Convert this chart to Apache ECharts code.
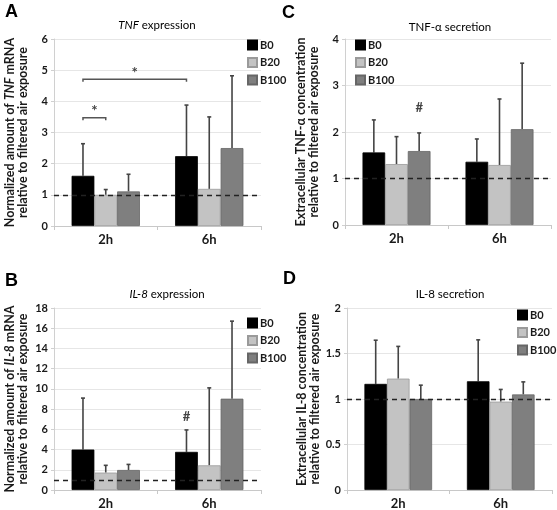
<!DOCTYPE html>
<html>
<head>
<meta charset="utf-8">
<script src="https://cdn.jsdelivr.net/npm/echarts@6/dist/echarts.min.js"></script>
<style>html,body{margin:0;padding:0;background:#fff}#c{width:557px;height:510px}</style>
</head>
<body>
<div id="c"></div>
<script>
// ---- data ----
const categories = ['2h', '6h'];
const seriesNames = ['B0', 'B20', 'B100'];

// A: TNF expression (mean, SD)
const tnfExprB0 = [1.61, 2.24];
const tnfExprB20 = [1.00, 1.19];
const tnfExprB100 = [1.11, 2.50];
const tnfExprSdB0 = [1.03, 1.64];
const tnfExprSdB20 = [0.17, 2.31];
const tnfExprSdB100 = [0.55, 2.32];

// B: IL-8 expression
const il8ExprB0 = [4.00, 3.77];
const il8ExprB20 = [1.72, 2.44];
const il8ExprB100 = [1.98, 9.03];
const il8ExprSdB0 = [5.09, 2.17];
const il8ExprSdB20 = [0.72, 7.66];
const il8ExprSdB100 = [0.55, 7.67];

// C: TNF-α secretion
const tnfSecB0 = [1.56, 1.36];
const tnfSecB20 = [1.31, 1.29];
const tnfSecB100 = [1.59, 2.06];
const tnfSecSdB0 = [0.70, 0.49];
const tnfSecSdB20 = [0.59, 1.42];
const tnfSecSdB100 = [0.39, 1.42];

// D: IL-8 secretion
const il8SecB0 = [1.166, 1.195];
const il8SecB20 = [1.224, 0.971];
const il8SecB100 = [1.00, 1.05];
const il8SecSdB0 = [0.48, 0.455];
const il8SecSdB20 = [0.354, 0.134];
const il8SecSdB100 = [0.152, 0.138];

// reference line (filtered air = 1)
const referenceLevel = 1;

// significance annotations: [category, barIndex, category2, barIndex2, value, label]
const bracketsA = [[0, 0, 0, 1, 3.47, '*'], [0, 0, 1, 0, 4.71, '*']];
// single markers: [category, barIndex, value, label]
const marksB = [[1, 0, 7.2, '#']];
const marksC = [[0, 2, 2.53, '#']];

// axis ranges
const yMaxA = 6, yStepA = 1;
const yMaxB = 18, yStepB = 2;
const yMaxC = 4, yStepC = 1;
const yMaxD = 2, yStepD = 0.5;

// ---- styling / layout ----
const FONT = 'Lato';
const colors = ['#000000', '#c3c3c3', '#7f7f7f'];
const borders = ['#000000', '#9a9a9a', '#666666'];
const CAT_GAP = 0.34;

const grids = [
  {left: 54, top: 39, width: 207, height: 187},   // A
  {left: 54, top: 308, width: 207, height: 185},  // B
  {left: 345, top: 39, width: 206, height: 186},  // C
  {left: 347, top: 308, width: 205, height: 185}  // D
];

const panels = [
  {means: [tnfExprB0, tnfExprB20, tnfExprB100], sds: [tnfExprSdB0, tnfExprSdB20, tnfExprSdB100], max: yMaxA, step: yStepA,
   name: '{n|Normalized amount of }{i|TNF}{n| mRNA}\n{n|relative to filtered air exposure}', brackets: bracketsA, marks: []},
  {means: [il8ExprB0, il8ExprB20, il8ExprB100], sds: [il8ExprSdB0, il8ExprSdB20, il8ExprSdB100], max: yMaxB, step: yStepB,
   name: '{n|Normalized amount of }{i|IL-8}{n| mRNA}\n{n|relative to filtered air exposure}', brackets: [], marks: marksB},
  {means: [tnfSecB0, tnfSecB20, tnfSecB100], sds: [tnfSecSdB0, tnfSecSdB20, tnfSecSdB100], max: yMaxC, step: yStepC,
   name: '{n|Extracellular TNF-α concentration}\n{n|relative to filtered air exposure}', brackets: [], marks: marksC},
  {means: [il8SecB0, il8SecB20, il8SecB100], sds: [il8SecSdB0, il8SecSdB20, il8SecSdB100], max: yMaxD, step: yStepD,
   name: '{n|Extracellular IL-8 concentration}\n{n|relative to filtered air exposure}', brackets: [], marks: []}
];

const nameRich = {
  n: {fontFamily: FONT, fontWeight: 'bold', fontSize: 12.5, color: '#1a1a1a', lineHeight: 13},
  i: {fontFamily: FONT, fontWeight: 'bold', fontStyle: 'italic', fontSize: 12.5, color: '#1a1a1a', lineHeight: 13}
};

function barOffset(api, barIdx) {
  const band = api.size([1, 0])[0];
  const bw = band * (1 - CAT_GAP) / 3;
  return (barIdx - 1) * bw;
}

const xAxes = [], yAxes = [], series = [], legends = [];
const legendPos = [{left: 247, top: 39}, {left: 247, top: 317}, {left: 355, top: 39}, {left: 517, top: 309}];

panels.forEach((p, g) => {
  xAxes.push({
    type: 'category', gridIndex: g, data: categories,
    axisLine: {lineStyle: {color: '#c8c8c8'}},
    axisTick: {show: true, length: 4, lineStyle: {color: '#c8c8c8'}},
    axisLabel: {fontFamily: FONT, fontWeight: 'bold', fontSize: 13, color: '#1a1a1a', margin: 7}
  });
  yAxes.push({
    type: 'value', gridIndex: g, min: 0, max: p.max, interval: p.step,
    axisLine: {show: true, lineStyle: {color: '#d0d0d0'}},
    axisTick: {show: true, length: 3, lineStyle: {color: '#d0d0d0'}},
    splitLine: {lineStyle: {color: '#e6e6e6'}},
    axisLabel: {fontFamily: FONT, fontWeight: 'bold', fontSize: 11, color: '#1a1a1a', margin: 6},
    name: p.name, nameLocation: 'middle', nameGap: 25, nameRotate: 90,
    nameTextStyle: {rich: nameRich}
  });
  p.means.forEach((vals, s) => {
    const ser = {
      type: 'bar', name: seriesNames[s], xAxisIndex: g, yAxisIndex: g, data: vals,
      barGap: '0%', barCategoryGap: (CAT_GAP * 100) + '%',
      itemStyle: {color: colors[s], borderColor: borders[s], borderWidth: 0.8},
      z: 2
    };
    if (s === 0) {
      ser.markLine = {
        silent: true, symbol: 'none', label: {show: false}, animation: false,
        lineStyle: {type: [5, 4], color: '#222', width: 1.3},
        data: [{yAxis: referenceLevel}], z: 5
      };
    }
    series.push(ser);
  });
  // error bars
  p.means.forEach((vals, s) => {
    series.push({
      type: 'custom', xAxisIndex: g, yAxisIndex: g, z: 1,
      data: vals.map((m, i) => [i, m, m + p.sds[s][i]]),
      renderItem: (params, api) => {
        const c = api.value(0);
        const off = barOffset(api, s);
        const a = api.coord([c, api.value(1)]);
        const b = api.coord([c, api.value(2)]);
        const x = a[0] + off;
        return {type: 'group', children: [
          {type: 'line', shape: {x1: x, y1: a[1], x2: x, y2: b[1]}, style: {stroke: '#444', lineWidth: 1.6}},
          {type: 'line', shape: {x1: x - 2, y1: b[1], x2: x + 2, y2: b[1]}, style: {stroke: '#444', lineWidth: 1.6}}
        ]};
      }
    });
  });
  // brackets
  if (p.brackets.length) {
    series.push({
      type: 'custom', xAxisIndex: g, yAxisIndex: g, z: 4,
      data: p.brackets,
      renderItem: (params, api) => {
        const y = api.value(4);
        const p1 = api.coord([api.value(0), y]);
        const p2 = api.coord([api.value(2), y]);
        const x1 = p1[0] + barOffset(api, api.value(1));
        const x2 = p2[0] + barOffset(api, api.value(3));
        const yy = p1[1];
        return {type: 'group', children: [
          {type: 'polyline', shape: {points: [[x1, yy + 2.5], [x1, yy], [x2, yy], [x2, yy + 2.5]]}, style: {stroke: '#555', lineWidth: 1.5, fill: null}},
          {type: 'text', x: (x1 + x2) / 2, y: yy + 1, style: {text: p.brackets[params.dataIndex][5], align: 'center', verticalAlign: 'bottom', fontFamily: FONT, fontWeight: 'bold', fontSize: 15, fill: '#444'}}
        ]};
      }
    });
  }
  if (p.marks.length) {
    series.push({
      type: 'custom', xAxisIndex: g, yAxisIndex: g, z: 4,
      data: p.marks,
      renderItem: (params, api) => {
        const pt = api.coord([api.value(0), api.value(2)]);
        const x = pt[0] + barOffset(api, api.value(1));
        return {type: 'text', x: x, y: pt[1], style: {text: p.marks[params.dataIndex][3], align: 'center', verticalAlign: 'middle', fontFamily: FONT, fontWeight: 'bold', fontSize: 13, fill: '#444'}};
      }
    });
  }
  legends.push({
    data: seriesNames, orient: 'vertical', left: legendPos[g].left, top: legendPos[g].top,
    icon: 'rect', itemWidth: 9, itemHeight: 9, itemGap: 5.5, padding: 0, selectedMode: false,
    textStyle: {fontFamily: FONT, fontWeight: 'bold', fontSize: 11, color: '#1a1a1a', lineHeight: 12, padding: [0, 0, 0, -2]}
  });
});

const titleRich = {
  n: {fontFamily: FONT, fontSize: 11.5, color: '#1a1a1a'},
  i: {fontFamily: FONT, fontSize: 11.5, fontStyle: 'italic', color: '#1a1a1a'}
};
const graphics = [
  {type: 'text', left: 5, top: 3, style: {text: 'A', fontFamily: 'Liberation Sans', fontWeight: 'bold', fontSize: 18, fill: '#000'}},
  {type: 'text', left: 282, top: 4, style: {text: 'C', fontFamily: 'Liberation Sans', fontWeight: 'bold', fontSize: 18, fill: '#000'}},
  {type: 'text', left: 5, top: 272, style: {text: 'B', fontFamily: 'Liberation Sans', fontWeight: 'bold', fontSize: 18, fill: '#000'}},
  {type: 'text', left: 283, top: 270, style: {text: 'D', fontFamily: 'Liberation Sans', fontWeight: 'bold', fontSize: 18, fill: '#000'}},
  {type: 'text', x: 157, y: 25, style: {text: '{i|TNF}{n| expression}', rich: titleRich, align: 'center', verticalAlign: 'middle'}},
  {type: 'text', x: 450, y: 27, style: {text: '{n|TNF-α secretion}', rich: titleRich, align: 'center', verticalAlign: 'middle'}},
  {type: 'text', x: 167, y: 294, style: {text: '{i|IL-8}{n| expression}', rich: titleRich, align: 'center', verticalAlign: 'middle'}},
  {type: 'text', x: 450, y: 294, style: {text: '{n|IL-8 secretion}', rich: titleRich, align: 'center', verticalAlign: 'middle'}}
];

const chart = echarts.init(document.getElementById('c'), null, {renderer: 'canvas'});
chart.setOption({
  animation: false,
  textStyle: {fontFamily: FONT},
  grid: grids,
  xAxis: xAxes,
  yAxis: yAxes,
  legend: legends,
  series: series,
  graphic: graphics
});
</script>
</body>
</html>
